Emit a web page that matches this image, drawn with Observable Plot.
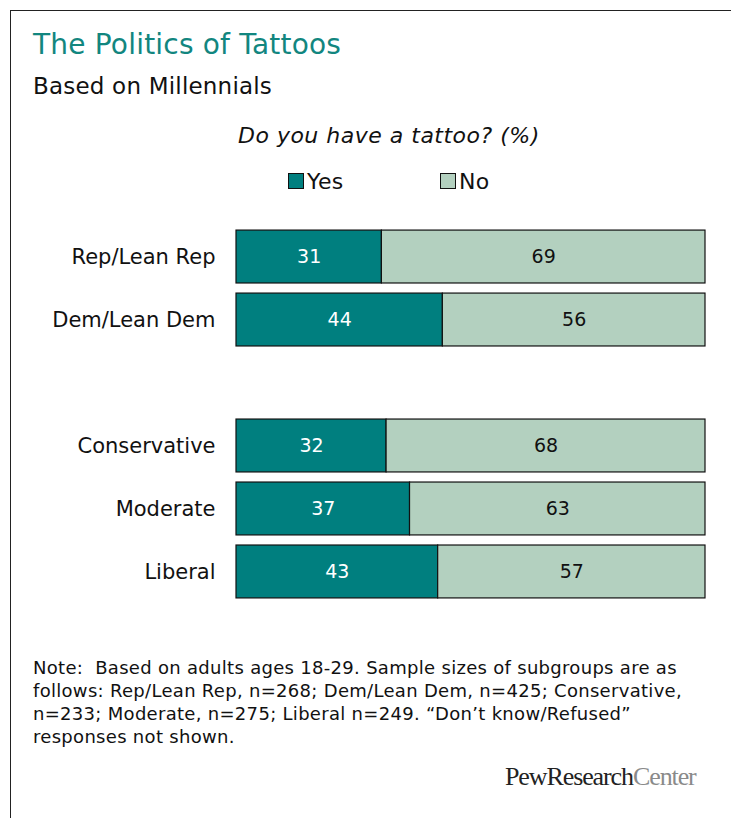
<!DOCTYPE html>
<html><head><meta charset="utf-8">
<script src="https://cdn.jsdelivr.net/npm/d3@7"></script>
<script src="https://cdn.jsdelivr.net/npm/@observablehq/plot@0.6"></script>
<style>
body{margin:0;background:#fff;font-family:"DejaVu Sans",Verdana,sans-serif;}
#frame{position:absolute;left:10px;top:10px;width:740px;height:820px;border-left:1.5px solid #222;border-top:1.5px solid #222;}
.abs{position:absolute;white-space:nowrap;}
#title{left:33px;top:31px;font-size:28px;line-height:28px;letter-spacing:0.2px;color:#12867f;}
#subtitle{left:33px;top:75px;font-size:23px;line-height:23px;letter-spacing:0.2px;color:#111;}
#question{left:238px;top:125px;font-size:22px;line-height:22px;letter-spacing:0.5px;font-style:italic;color:#111;}
.leg{top:171px;font-size:22px;line-height:22px;letter-spacing:0.4px;color:#111;}
.sw{display:inline-block;width:14px;height:14px;border:1px solid #111;vertical-align:0;margin-right:3px;}
#note{left:33px;top:656px;font-size:18px;line-height:23px;letter-spacing:0.3px;color:#111;white-space:pre;}
#logo{left:505px;top:764px;font-family:"Liberation Serif","Times New Roman",serif;font-size:26px;line-height:26px;letter-spacing:-1.1px;color:#222;}
#logo span{color:#8a8a8a;}
#chart{position:absolute;left:0;top:200px;}
</style></head>
<body>
<div id="frame"></div>
<div class="abs" id="title">The Politics of Tattoos</div>
<div class="abs" id="subtitle">Based on Millennials</div>
<div class="abs" id="question">Do you have a tattoo? (%)</div>
<div class="abs leg" id="legYes" style="left:288px"><span class="sw" style="background:#007f7f"></span>Yes</div>
<div class="abs leg" id="legNo" style="left:440px"><span class="sw" style="background:#b3d0bf"></span>No</div>
<div id="chart"></div>
<div class="abs" id="note">Note:  Based on adults ages 18-29. Sample sizes of subgroups are as
follows: Rep/Lean Rep, n=268; Dem/Lean Dem, n=425; Conservative,
n=233; Moderate, n=275; Liberal n=249. “Don’t know/Refused”
responses not shown.</div>
<div class="abs" id="logo">PewResearch<span>Center</span></div>
<script>
const categories = ["Rep/Lean Rep", "Dem/Lean Dem", " ", "Conservative", "Moderate", "Liberal"];
const groups = ["Rep/Lean Rep", "Dem/Lean Dem", "Conservative", "Moderate", "Liberal"];
const yesValues = [31, 44, 32, 37, 43];
const noValues = [69, 56, 68, 63, 57];
const responses = ["Yes", "No"];
const colors = ["#007f7f", "#b3d0bf"];
const textColors = ["#ffffff", "#111111"];

const data = [];
groups.forEach((g, i) => {
  data.push({group: g, response: "Yes", value: yesValues[i], x1: 0, x2: yesValues[i]});
  data.push({group: g, response: "No", value: noValues[i], x1: yesValues[i], x2: yesValues[i] + noValues[i]});
});

const chart = Plot.plot({
  width: 731,
  height: 418,
  marginLeft: 236,
  marginRight: 26,
  marginTop: 20,
  marginBottom: 10,
  style: {fontFamily: "'DejaVu Sans', Verdana, sans-serif", fontSize: "21px", color: "#111", background: "transparent"},
  x: {domain: [0, 100], axis: null},
  y: {domain: categories, padding: 0.16, round: false, label: null, axis: null},
  color: {domain: responses, range: colors},
  marks: [
    Plot.barX(data, {y: "group", x1: "x1", x2: "x2", fill: "response", stroke: "#111", strokeWidth: 1.2}),
    Plot.text(data, {y: "group", x: d => (d.x1 + d.x2) / 2, text: d => String(d.value),
      fill: d => textColors[responses.indexOf(d.response)], fontSize: 19}),
    Plot.axisY({tickSize: 0, tickPadding: 21, fontSize: 21, letterSpacing: "0.6px", tickFormat: d => d.trim(), label: null})
  ]
});
document.getElementById("chart").appendChild(chart);
</script>
</body></html>
